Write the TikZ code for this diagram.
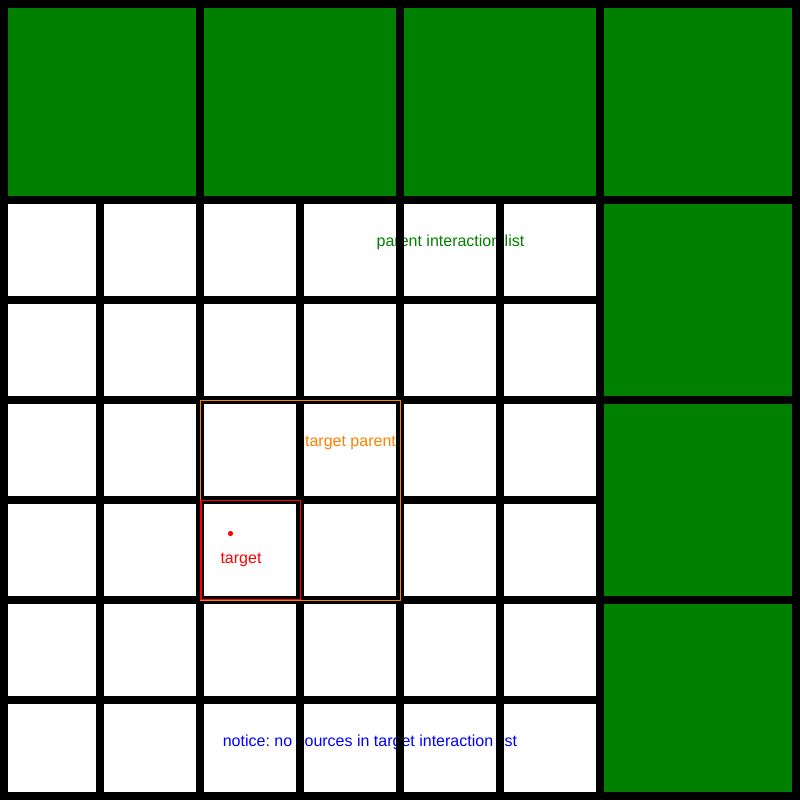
\documentclass[tikz,border=0pt]{standalone}
\usepackage{fontspec}
\setmainfont{Liberation Sans}
\definecolor{cellgreen}{RGB}{0,128,0}
\definecolor{parorange}{RGB}{255,128,0}
\definecolor{tgtred}{RGB}{255,0,0}
\definecolor{noteblue}{RGB}{0,0,255}
\tikzset{
  gridline/.style={black,line width=8pt},
  lbl/.style={inner sep=0pt,anchor=base,font=\frenchspacing\fontsize{16pt}{19pt}\selectfont},
  boxline/.style={line width=1.5pt}
}
\begin{document}
\frenchspacing
\begin{tikzpicture}[x=1pt,y=-1pt]
\useasboundingbox (0,0) rectangle (800,800);
\fill[black] (0,0) rectangle (800,800);
\fill[white] (0,200) rectangle (600,800);
\fill[cellgreen] (0,0) rectangle (800,200);
\fill[cellgreen] (600,200) rectangle (800,800);
% labels (drawn beneath the grid lines)
\node[lbl,text=cellgreen] (pil) at (450.5,246.5) {parent interaction list};
\node[lbl,text=parorange] (tp) at (350.5,446.5) {target parent};
\node[lbl,text=tgtred] (tl) at (241,563) {target};
\node[lbl,text=noteblue] (note) at (370,746.5) {notice: no sources in target interaction list};
% grid
\draw[gridline] (4,4) rectangle (796,796);
\foreach \x in {200,400,600} \draw[gridline] (\x,0) -- (\x,800);
\foreach \x in {100,300,500} \draw[gridline] (\x,200) -- (\x,800);
\foreach \y in {200,400,600} \draw[gridline] (0,\y) -- (800,\y);
\foreach \y in {300,500,700} \draw[gridline] (0,\y) -- (600,\y);
% target parent and target boxes
\draw[boxline,parorange] (200.5,400.5) rectangle (400.5,600.5);
\draw[boxline,tgtred] (201,500.5) rectangle (300.5,599.5);
\fill[tgtred] (230.5,533.5) circle (2.6);
\end{tikzpicture}
\end{document}
